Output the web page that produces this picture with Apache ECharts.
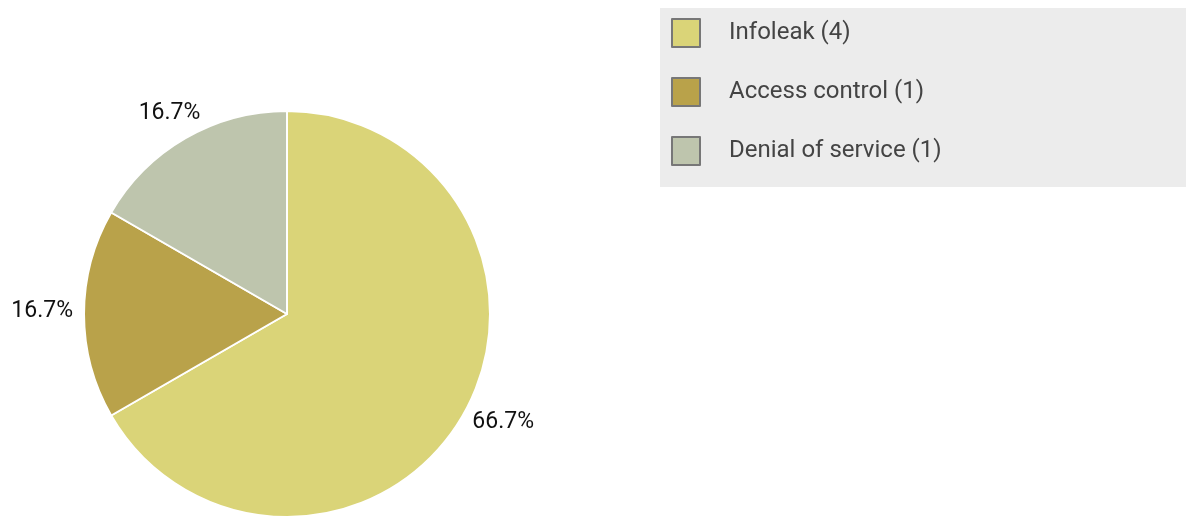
<!DOCTYPE html>
<html>
<head>
<meta charset="utf-8">
<title>Vulnerability types</title>
<script src="https://cdn.jsdelivr.net/npm/echarts@6/dist/echarts.min.js"></script>
<style>
  html, body { margin: 0; padding: 0; background: #ffffff; }
  #chart { width: 1186px; height: 518px; }
</style>
</head>
<body>
<div id="chart"></div>
<script>
// Vulnerability categories and their counts
const categories = ['Infoleak', 'Access control', 'Denial of service'];
const counts = [4, 1, 1];
const colors = ['#dad478', '#b9a24a', '#bec5ad'];

const FONT = 'Roboto, "Liberation Sans", sans-serif';
const total = counts.reduce((a, b) => a + b, 0);

const chart = echarts.init(document.getElementById('chart'), null, { renderer: 'canvas' });

chart.setOption({
  animation: false,
  color: colors,
  legend: {
    orient: 'vertical',
    left: 660,
    top: 8,
    padding: [10, 250, 21, 11],
    backgroundColor: '#ececec',
    itemWidth: 28,
    itemHeight: 28,
    itemGap: 29,
    icon: 'rect',
    itemStyle: { borderColor: '#777777', borderWidth: 2 },
    textStyle: {
      fontFamily: FONT,
      fontSize: 24,
      lineHeight: 28,
      color: '#444444',
      padding: [0, 0, 0, 24]
    },
    formatter: function (name) {
      const i = categories.indexOf(name);
      return name + ' (' + counts[i] + ')';
    },
    data: categories
  },
  series: [{
    type: 'pie',
    center: [287, 314],
    radius: 203,
    startAngle: 90,
    clockwise: true,
    avoidLabelOverlap: false,
    itemStyle: { borderColor: '#ffffff', borderWidth: 2 },
    label: {
      show: true,
      position: 'outside',
      fontFamily: FONT,
      fontSize: 23,
      color: '#111111',
      formatter: function (p) {
        return (p.value / total * 100).toFixed(1) + '%';
      }
    },
    // guide line kept invisible; its points give the slice's mid direction
    labelLine: { show: true, length: 32, length2: 0, lineStyle: { opacity: 0 } },
    labelLayout: function (params) {
      const pts = params.labelLinePoints;
      if (!pts) return {};
      const dx = (pts[1][0] - pts[0][0]) / 32;
      const dy = (pts[1][1] - pts[0][1]) / 32;
      if (Math.abs(dx) > 0.7) {
        // side labels sit just beyond the rim, aligned away from the pie
        return {
          x: pts[0][0] + 11 * dx,
          y: pts[0][1] + 11 * dy - 3 + 8 * dy,
          align: dx > 0 ? 'left' : 'right',
          verticalAlign: 'middle'
        };
      }
      return { x: pts[1][0], y: pts[1][1] + 3, align: 'center', verticalAlign: 'middle' };
    },
    emphasis: { disabled: true },
    data: categories.map((name, i) => ({ name: name, value: counts[i] }))
  }]
});
</script>
</body>
</html>
